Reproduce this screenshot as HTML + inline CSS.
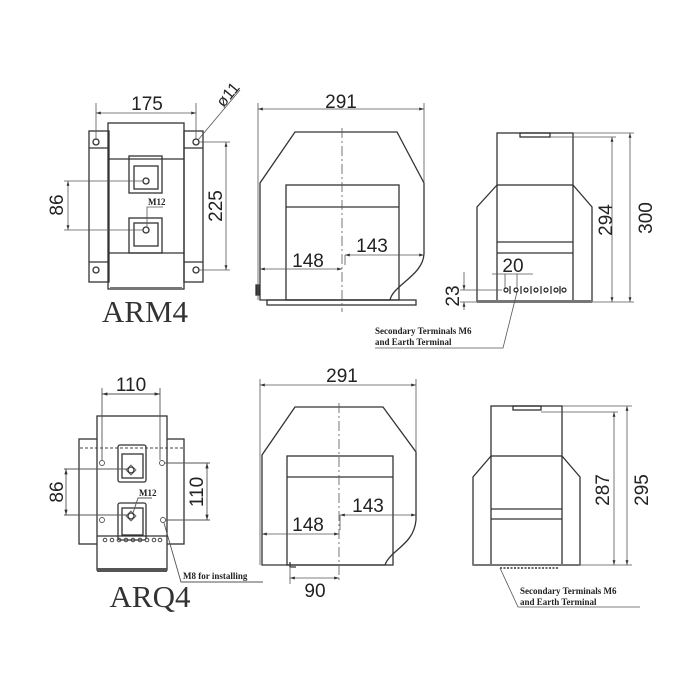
<!DOCTYPE html>
<html><head><meta charset="utf-8"><style>
html,body{margin:0;padding:0;background:#fff;}
svg{display:block}
.l{stroke:#333;stroke-width:1.3;fill:none}
.t{stroke:#555;stroke-width:0.8;fill:none}
.d{font-family:"Liberation Sans",sans-serif;font-size:19px;fill:#222}
.s{font-family:"Liberation Serif",serif;font-size:9px;font-weight:bold;fill:#222}
.big{font-family:"Liberation Serif",serif;font-size:31px;fill:#333}
</style></head><body>
<svg width="700" height="700" viewBox="0 0 700 700" xmlns="http://www.w3.org/2000/svg">
<defs>
<marker id="a" viewBox="0 0 10 10" refX="10" refY="5" markerWidth="6" markerHeight="6" orient="auto-start-reverse"><path d="M0,2 L10,5 L0,8 z" fill="#333"/></marker>
</defs>

<!-- ===== ARM4 ===== -->
<g class="l">
<rect x="89" y="131" width="20" height="151"/>
<rect x="184" y="131" width="19" height="151"/>
<line x1="89" y1="148" x2="109" y2="148"/><line x1="89" y1="262" x2="109" y2="262"/>
<line x1="184" y1="148" x2="203" y2="148"/><line x1="184" y1="262" x2="203" y2="262"/>
<rect x="108" y="123" width="76" height="166"/>
<line x1="108" y1="159" x2="184" y2="159"/><line x1="108" y1="253" x2="184" y2="253"/>
<rect x="129" y="156" width="33" height="37"/><rect x="134" y="166" width="24" height="23"/>
<rect x="129" y="218" width="33" height="35"/><rect x="134" y="223" width="24" height="23"/>
<circle cx="146" cy="181" r="3"/><circle cx="146" cy="230" r="3"/>
<circle cx="96" cy="142" r="3"/><circle cx="196" cy="142" r="3"/>
<circle cx="96" cy="270" r="3"/><circle cx="196" cy="270" r="3"/>
</g>
<rect x="110" y="287" width="72" height="3" fill="#777"/>
<g class="t">
<line x1="96" y1="103" x2="96" y2="140"/><line x1="196" y1="103" x2="196" y2="140"/>
<line x1="96" y1="113" x2="196" y2="113" marker-start="url(#a)" marker-end="url(#a)"/>
<line x1="64" y1="181" x2="143" y2="181"/><line x1="64" y1="230" x2="143" y2="230"/>
<line x1="68" y1="181" x2="68" y2="230" marker-start="url(#a)" marker-end="url(#a)"/>
<line x1="199" y1="142" x2="230" y2="142"/><line x1="199" y1="270" x2="230" y2="270"/>
<line x1="226" y1="142" x2="226" y2="270" marker-start="url(#a)" marker-end="url(#a)"/>
<line x1="198" y1="140" x2="240" y2="90"/>
<polyline points="147,228 147,207 163,207"/>
</g>
<text class="d" x="147" y="110" text-anchor="middle">175</text>
<text class="d" transform="translate(63,205) rotate(-90)" text-anchor="middle">86</text>
<text class="d" transform="translate(222,206) rotate(-90)" text-anchor="middle">225</text>
<text class="d" style="font-size:16px" transform="translate(232,98) rotate(-50)" text-anchor="middle">ø11</text>
<text class="s" x="148" y="205">M12</text>
<text class="big" x="145" y="322" text-anchor="middle">ARM4</text>

<!-- ===== top middle ===== -->
<g class="l">
<path d="M260,300 L260,183 L295,132 L397,132 L424,183 L424,253 C424,275 393,285 390,300 Z"/>
<rect x="267" y="300" width="149" height="5"/>
<rect x="286" y="185" width="113" height="115"/>
<line x1="286" y1="207" x2="399" y2="207"/>
<rect x="256" y="285" width="3" height="10" fill="#333"/>
</g>
<g class="t">
<line x1="342" y1="128" x2="342" y2="312" stroke-dasharray="10,3,2,3"/>
<line x1="258" y1="103" x2="258" y2="300"/><line x1="424" y1="103" x2="424" y2="182"/>
<line x1="258" y1="109" x2="424" y2="109" marker-start="url(#a)" marker-end="url(#a)"/>
<line x1="260" y1="269" x2="342" y2="269" marker-start="url(#a)" marker-end="url(#a)"/>
<line x1="345" y1="255" x2="424" y2="255" marker-start="url(#a)" marker-end="url(#a)"/>
<line x1="345" y1="255" x2="345" y2="265"/>
</g>
<text class="d" x="341" y="108" text-anchor="middle">291</text>
<text class="d" x="308" y="267" text-anchor="middle">148</text>
<text class="d" x="372" y="252" text-anchor="middle">143</text>

<!-- ===== top right ===== -->
<g class="l">
<rect x="497" y="133" width="76" height="52"/>
<rect x="520" y="133" width="30" height="4"/>
<path d="M497,185 L477,207 L477,301 L592,301 L592,207 L573,185"/>
<line x1="497" y1="185" x2="497" y2="301"/><line x1="573" y1="185" x2="573" y2="301"/>
<line x1="497" y1="242" x2="573" y2="242"/><line x1="497" y1="253" x2="573" y2="253"/>
</g>
<rect x="477" y="300" width="115" height="3" fill="#777"/>
<g class="t">
<line x1="573" y1="133" x2="634" y2="133"/><line x1="550" y1="137" x2="616" y2="137"/><line x1="592" y1="302" x2="634" y2="302"/>
<line x1="612" y1="137" x2="612" y2="302" marker-start="url(#a)" marker-end="url(#a)"/>
<line x1="630" y1="133" x2="630" y2="302" marker-start="url(#a)" marker-end="url(#a)"/>
<line x1="492" y1="274" x2="533" y2="274"/>
<line x1="505" y1="274" x2="505" y2="289"/><line x1="517" y1="274" x2="517" y2="289"/>
<line x1="460" y1="290" x2="502" y2="290"/><line x1="460" y1="302" x2="478" y2="302"/>
<line x1="464" y1="272" x2="464" y2="290" marker-end="url(#a)"/>
<line x1="464" y1="310" x2="464" y2="302" marker-end="url(#a)"/>
<polyline points="517,292 503,348 375,348"/>
</g>
<g fill="none" stroke="#222" stroke-width="1.2">
<circle cx="506" cy="290" r="2"/><circle cx="516" cy="290" r="2"/><circle cx="526" cy="290" r="2"/><circle cx="536" cy="290" r="2"/><circle cx="546" cy="290" r="2"/><circle cx="556" cy="290" r="2"/><circle cx="564" cy="290" r="2"/>
<line x1="510" y1="286" x2="510" y2="294"/><line x1="521" y1="286" x2="521" y2="294"/><line x1="531" y1="286" x2="531" y2="294"/><line x1="541" y1="286" x2="541" y2="294"/><line x1="551" y1="286" x2="551" y2="294"/><line x1="560" y1="286" x2="560" y2="294"/>
</g>
<text class="d" x="606" y="220" text-anchor="middle" transform="rotate(-90 606 220)" dy="6">294</text>
<text class="d" x="646" y="218" text-anchor="middle" transform="rotate(-90 646 218)" dy="6">300</text>
<text class="d" x="513" y="272" text-anchor="middle">20</text>
<text class="d" transform="translate(459,296) rotate(-90)" text-anchor="middle">23</text>
<text class="s" x="375" y="334">Secondary Terminals M6</text>
<text class="s" x="375" y="345">and Earth Terminal</text>

<!-- ===== ARQ4 ===== -->
<g class="l">
<rect x="79" y="439" width="105" height="105"/>
<rect x="97" y="416" width="70" height="154" fill="#fff"/>
<line x1="97" y1="536" x2="167" y2="536"/>
<rect x="118" y="445" width="28" height="37" rx="2"/><rect x="122" y="454" width="21" height="24"/>
<rect x="118" y="503" width="28" height="37" rx="2"/><rect x="122" y="508" width="21" height="27"/>
<circle cx="131" cy="470" r="3"/><circle cx="131" cy="516" r="3"/>
</g>
<line x1="80" y1="448" x2="184" y2="448" stroke="#444" stroke-dasharray="3,2"/>
<path d="M131,465 L136,470 L131,475 L126,470 Z" class="t"/>
<path d="M131,511 L136,516 L131,521 L126,516 Z" class="t"/>
<rect x="97" y="568" width="70" height="4" fill="#555"/>
<g fill="none" stroke="#555" stroke-width="0.9">
<circle cx="102" cy="463" r="2.5"/><circle cx="162" cy="463" r="2.5"/><circle cx="102" cy="520" r="2.5"/><circle cx="163" cy="520" r="2.5"/>
<line x1="102" y1="388" x2="102" y2="460"/><line x1="160" y1="388" x2="160" y2="460"/>
<line x1="102" y1="394" x2="160" y2="394" marker-start="url(#a)" marker-end="url(#a)"/>
<line x1="64" y1="469" x2="128" y2="469"/><line x1="64" y1="515" x2="128" y2="515"/>
<line x1="66" y1="469" x2="66" y2="515" marker-start="url(#a)" marker-end="url(#a)"/>
<line x1="165" y1="463" x2="210" y2="463"/><line x1="165" y1="520" x2="210" y2="520"/>
<line x1="207" y1="463" x2="207" y2="520" marker-start="url(#a)" marker-end="url(#a)"/>
<polyline points="133,513 138,498 152,498"/>
<polyline points="164,523 181,582 263,582"/>
</g>
<g fill="none" stroke="#444" stroke-width="1">
<circle cx="105" cy="540" r="1.8"/><circle cx="112" cy="540" r="1.8"/><circle cx="119" cy="540" r="1.8"/><circle cx="126" cy="540" r="1.8"/><circle cx="133" cy="540" r="1.8"/><circle cx="140" cy="540" r="1.8"/><circle cx="147" cy="540" r="1.8"/><circle cx="154" cy="540" r="1.8"/><circle cx="160" cy="540" r="1.8"/>
</g>
<text class="d" x="131" y="391" text-anchor="middle">110</text>
<text class="d" transform="translate(63,492) rotate(-90)" text-anchor="middle">86</text>
<text class="d" transform="translate(203,492) rotate(-90)" text-anchor="middle">110</text>
<text class="s" x="139" y="496">M12</text>
<text class="s" x="183" y="579">M8 for installing</text>
<text class="big" x="150" y="607" text-anchor="middle">ARQ4</text>

<!-- ===== bottom middle ===== -->
<g class="l">
<path d="M262,565 L262,455 L295,407 L383,407 L416,452 L416,520 C414,545 390,550 385,565 Z"/>
<rect x="287" y="456" width="106" height="109"/>
<line x1="287" y1="477" x2="393" y2="477"/>
<polyline points="290,562 290,567 296,567"/>
</g>
<g class="t">
<line x1="339" y1="403" x2="339" y2="582" stroke-dasharray="10,3,2,3"/>
<line x1="260" y1="379" x2="260" y2="565"/><line x1="416" y1="379" x2="416" y2="452"/>
<line x1="260" y1="385" x2="416" y2="385" marker-start="url(#a)" marker-end="url(#a)"/>
<line x1="340" y1="515" x2="416" y2="515" marker-start="url(#a)" marker-end="url(#a)"/>
<line x1="340" y1="515" x2="340" y2="530"/>
<line x1="262" y1="534" x2="339" y2="534" marker-start="url(#a)" marker-end="url(#a)"/>
<line x1="290" y1="568" x2="290" y2="584"/>
<line x1="290" y1="578" x2="339" y2="578" marker-start="url(#a)" marker-end="url(#a)"/>
</g>
<text class="d" x="342" y="382" text-anchor="middle">291</text>
<text class="d" x="368" y="512" text-anchor="middle">143</text>
<text class="d" x="308" y="531" text-anchor="middle">148</text>
<text class="d" x="315" y="597" text-anchor="middle">90</text>

<!-- ===== bottom right ===== -->
<g class="l">
<rect x="491" y="406" width="71" height="50"/>
<rect x="513" y="406" width="28" height="4"/>
<path d="M491,456 L473,477 L473,565 L580,565 L580,477 L562,456"/>
<line x1="491" y1="456" x2="491" y2="565"/><line x1="562" y1="456" x2="562" y2="565"/>
<line x1="491" y1="509" x2="562" y2="509"/><line x1="491" y1="519" x2="562" y2="519"/>
</g>
<rect x="473" y="564" width="107" height="2" fill="#777"/>
<line x1="500" y1="568" x2="558" y2="568" stroke="#666" stroke-width="2" stroke-dasharray="2,1.5"/>
<g class="t">
<line x1="562" y1="406" x2="632" y2="406"/><line x1="541" y1="412" x2="618" y2="412"/><line x1="580" y1="565" x2="632" y2="565"/>
<line x1="614" y1="412" x2="614" y2="565" marker-start="url(#a)" marker-end="url(#a)"/>
<line x1="627" y1="406" x2="627" y2="565" marker-start="url(#a)" marker-end="url(#a)"/>
<polyline points="500,568 518,607 640,607"/>
</g>
<text class="d" x="603" y="490" text-anchor="middle" transform="rotate(-90 603 490)" dy="6">287</text>
<text class="d" x="642" y="490" text-anchor="middle" transform="rotate(-90 642 490)" dy="6">295</text>
<text class="s" x="520" y="594">Secondary Terminals M6</text>
<text class="s" x="520" y="605">and Earth Terminal</text>
</svg>
</body></html>
